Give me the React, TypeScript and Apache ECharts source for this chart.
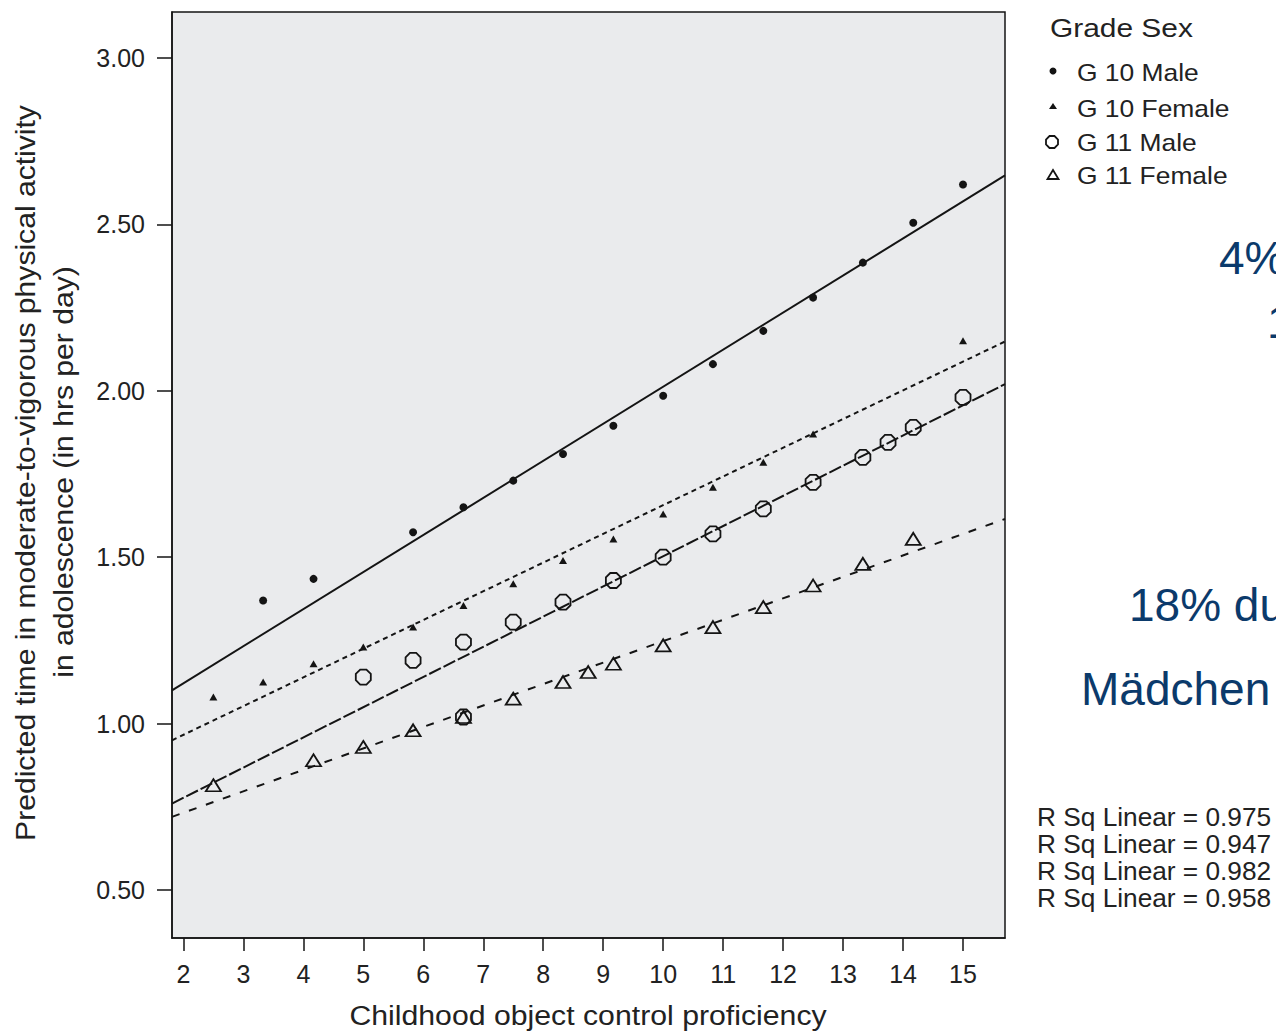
import React, { useEffect, useRef } from "react";
import * as echarts from "echarts";

const FONT = 'Arial, "Liberation Sans", Helvetica, sans-serif';
const INK = "#141414";
const BLUE = "#0b3a6b";

// axis ticks
const xTicks = [2, 3, 4, 5, 6, 7, 8, 9, 10, 11, 12, 13, 14, 15];
const yTicks = [0.5, 1.0, 1.5, 2.0, 2.5, 3.0];
const xRange = [1.81, 15.7];
const yRange = [0.356, 3.138];

// series names
const groupNames = ["G 10 Male", "G 10 Female", "G 11 Male", "G 11 Female"];

// data points
const g10MaleX = [3.33, 4.17, 5.83, 6.67, 7.5, 8.33, 9.17, 10, 10.83, 11.67, 12.5, 13.33, 14.17, 15];
const g10MaleY = [1.37, 1.435, 1.575, 1.65, 1.73, 1.81, 1.895, 1.985, 2.08, 2.18, 2.28, 2.385, 2.505, 2.62];

const g10FemaleX = [2.5, 3.33, 4.17, 5, 5.83, 6.67, 7.5, 8.33, 9.17, 10, 10.83, 11.67, 12.5, 15];
const g10FemaleY = [1.08, 1.125, 1.18, 1.23, 1.29, 1.355, 1.42, 1.49, 1.555, 1.63, 1.71, 1.785, 1.87, 2.15];

const g11MaleX = [5, 5.83, 6.67, 6.67, 7.5, 8.33, 9.17, 10, 10.83, 11.67, 12.5, 13.33, 13.75, 14.17, 15];
const g11MaleY = [1.14, 1.19, 1.245, 1.02, 1.305, 1.365, 1.43, 1.5, 1.57, 1.645, 1.725, 1.8, 1.845, 1.89, 1.98];

const g11FemaleX = [2.5, 4.17, 5, 5.83, 6.67, 7.5, 8.33, 8.75, 9.17, 10, 10.83, 11.67, 12.5, 13.33, 14.17];
const g11FemaleY = [0.815, 0.89, 0.93, 0.98, 1.02, 1.075, 1.125, 1.155, 1.18, 1.235, 1.29, 1.35, 1.415, 1.48, 1.555];

// linear fit lines: values at the left and right edge of the plot
const fitX = [1.81, 15.7];
const fitG10Male = [1.1, 2.647];
const fitG10Female = [0.95, 2.148];
const fitG11Male = [0.76, 2.02];
const fitG11Female = [0.72, 1.615];

const rSqValues = ["0.975", "0.947", "0.982", "0.958"];

const OCTAGON = "path://M29.3,0L70.7,0L100,29.3L100,70.7L70.7,100L29.3,100L0,70.7L0,29.3Z";

const pairs = (xs: number[], ys: number[]) => xs.map((x, i) => [x, ys[i]]);

function txt(
  text: string,
  x: number,
  y: number,
  size: number,
  opts: any = {}
) {
  const align = opts.align || "left";
  return {
    type: "text",
    x,
    y,
    rotation: opts.rotation || 0,
    scaleX: opts.scaleX || 1,
    silent: true,
    style: {
      text,
      fontSize: size,
      fontFamily: FONT,
      fill: opts.color || "#222",
      align,
      textAlign: align,
      verticalAlign: "middle",
      textVerticalAlign: "middle",
    },
  };
}

export default function App() {
  const ref = useRef<HTMLDivElement>(null);

  useEffect(() => {
    if (!ref.current) return;
    const chart = echarts.init(ref.current, undefined, { renderer: "svg" });

    const fitLine = (name: string, ys: number[], type: any) => ({
      name: name + " fit",
      type: "line",
      data: pairs(fitX, ys),
      showSymbol: false,
      symbol: "none",
      silent: true,
      z: 3,
      lineStyle: { color: INK, width: 2, type },
    });

    const oct = (cx: number, cy: number, s: number) => {
      const h = s / 2;
      const c = s * 0.207;
      return [
        [cx - c, cy - h], [cx + c, cy - h], [cx + h, cy - c], [cx + h, cy + c],
        [cx + c, cy + h], [cx - c, cy + h], [cx - h, cy + c], [cx - h, cy - c],
      ];
    };

    const legendY = [72, 108, 142, 175];
    const legendSymX = 1053;

    const option: any = {
      animation: false,
      backgroundColor: "#ffffff",
      grid: {
        left: 172,
        top: 12,
        width: 833,
        height: 926,
        show: true,
        backgroundColor: "#EAEBED",
        borderColor: INK,
        borderWidth: 1.5,
        containLabel: false,
        outerBoundsMode: "none",
      },
      xAxis: {
        type: "value",
        min: xRange[0],
        max: xRange[1],
        splitLine: { show: false },
        axisLine: { show: true, onZero: false, lineStyle: { color: INK, width: 1.5 } },
        axisTick: { show: true, length: 13, customValues: xTicks, lineStyle: { color: INK, width: 1.5 } },
        axisLabel: {
          customValues: xTicks,
          fontSize: 25,
          fontFamily: FONT,
          color: "#222",
          margin: 23,
        },
      },
      yAxis: {
        type: "value",
        min: yRange[0],
        max: yRange[1],
        splitLine: { show: false },
        axisLine: { show: true, onZero: false, lineStyle: { color: INK, width: 1.5 } },
        axisTick: { show: true, length: 15, customValues: yTicks, lineStyle: { color: INK, width: 1.5 } },
        axisLabel: {
          customValues: yTicks,
          fontSize: 25,
          fontFamily: FONT,
          color: "#222",
          margin: 27,
          formatter: (v: number) => v.toFixed(2),
        },
      },
      series: [
        fitLine(groupNames[0], fitG10Male, "solid"),
        fitLine(groupNames[1], fitG10Female, [5, 4]),
        fitLine(groupNames[2], fitG11Male, [13, 3]),
        fitLine(groupNames[3], fitG11Female, [8, 10]),
        {
          name: groupNames[0],
          type: "scatter",
          data: pairs(g10MaleX, g10MaleY),
          symbol: "circle",
          symbolSize: 8,
          z: 4,
          itemStyle: { color: INK, opacity: 1 },
        },
        {
          name: groupNames[1],
          type: "scatter",
          data: pairs(g10FemaleX, g10FemaleY),
          symbol: "triangle",
          symbolSize: [8, 7],
          z: 4,
          itemStyle: { color: INK, opacity: 1 },
        },
        {
          name: groupNames[2],
          type: "scatter",
          data: pairs(g11MaleX, g11MaleY),
          symbol: OCTAGON,
          symbolSize: 15,
          z: 4,
          itemStyle: { color: "rgba(0,0,0,0)", borderColor: INK, borderWidth: 1.8, opacity: 1 },
        },
        {
          name: groupNames[3],
          type: "scatter",
          data: pairs(g11FemaleX, g11FemaleY),
          symbol: "triangle",
          symbolSize: [15, 12],
          z: 4,
          itemStyle: { color: "rgba(0,0,0,0)", borderColor: INK, borderWidth: 1.8, opacity: 1 },
        },
      ],
      graphic: [
        // axis titles
        txt("Childhood object control proficiency", 588, 1016, 27, { align: "center", scaleX: 1.12 }),
        txt("Predicted time in moderate-to-vigorous physical activity", 26, 473, 27, {
          align: "center",
          rotation: Math.PI / 2,
          scaleX: 1.115,
        }),
        txt("in adolescence (in hrs per day)", 64, 472, 27, {
          align: "center",
          rotation: Math.PI / 2,
          scaleX: 1.115,
        }),
        // legend
        txt("Grade Sex", 1050, 28, 26, { scaleX: 1.15 }),
        {
          type: "circle",
          silent: true,
          shape: { cx: legendSymX, cy: legendY[0] - 1, r: 3.5 },
          style: { fill: INK },
        },
        {
          type: "polygon",
          silent: true,
          shape: {
            points: [
              [legendSymX - 4, legendY[1] + 1],
              [legendSymX + 4, legendY[1] + 1],
              [legendSymX, legendY[1] - 5],
            ],
          },
          style: { fill: INK },
        },
        {
          type: "polygon",
          silent: true,
          shape: { points: oct(legendSymX - 1, legendY[2], 12) },
          style: { fill: "none", stroke: INK, lineWidth: 1.8 },
        },
        {
          type: "polygon",
          silent: true,
          shape: {
            points: [
              [legendSymX - 5.5, legendY[3] + 4],
              [legendSymX + 5.5, legendY[3] + 4],
              [legendSymX, legendY[3] - 5],
            ],
          },
          style: { fill: "none", stroke: INK, lineWidth: 1.8 },
        },
        ...groupNames.map((n, i) => txt(n, 1077, legendY[i], 24, { scaleX: 1.1 })),
        // R squared
        ...rSqValues.map((v, i) => txt("R Sq Linear = " + v, 1037, 817 + i * 27, 25, { scaleX: 1.05 })),
        // slide text (cut off at the right edge, as in the reference)
        txt("4%", 1219, 258, 46, { color: BLUE }),
        txt("1", 1267, 322, 46, { color: BLUE }),
        txt("18% du", 1129, 605, 46, { color: BLUE }),
        txt("Mädchen", 1081, 689, 46, { color: BLUE }),
      ],
    };

    chart.setOption(option);
    return () => chart.dispose();
  }, []);

  return (
    <div
      ref={ref}
      style={{ position: "absolute", left: 0, top: 0, width: 1276, height: 1032, background: "#fff" }}
    />
  );
}
